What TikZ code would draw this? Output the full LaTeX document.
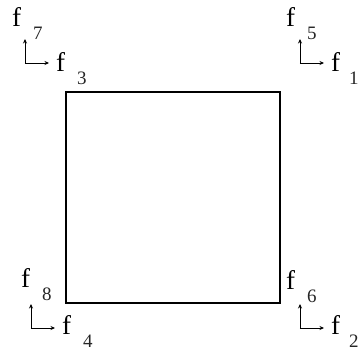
\documentclass[tikz,border=0pt]{standalone}
\usepackage{fontspec}
\setmainfont{Liberation Serif}
\usetikzlibrary{arrows.meta}
\begin{document}
\begin{tikzpicture}[x=1pt,y=-1pt,
  fl/.style={anchor=base west,inner sep=0pt,font=\fontsize{27}{27}\selectfont},
  ix/.style={anchor=base west,inner sep=0pt,font=\fontsize{19}{19}\selectfont,text=black!85},
  ar/.style={-{Stealth[length=4.5pt,width=4pt]},line width=0.9pt}]
\useasboundingbox (0,0) rectangle (360,353);
\node[draw,line width=1.2pt,minimum width=214pt,minimum height=211pt,inner sep=0pt] (sq) at (173,197.5) {};
% labels f with index
\foreach \n/\x/\y/\d in {7/12/27/21, 3/56/72/21, 5/286/27/21, 1/331/72/18, 8/21/288/21, 4/62/335/21, 6/286/290/21, 2/331/335/18} {
  \node[fl] (f\n) at (\x,\y) {f};
  \node[ix] (i\n) at (\x+\d,\y+13) {\n};
}
% small axes
\foreach \n/\x/\y in {7/25/63, 5/300/63, 8/31/328, 6/300/328} {
  \coordinate (c\n) at (\x,\y);
  \coordinate (u\n) at (\x,\y-24);
  \coordinate (r\n) at (\x+24,\y);
  \draw[ar] (c\n) -- (u\n);
  \draw[ar] (c\n) -- (r\n);
}
\end{tikzpicture}
\end{document}
